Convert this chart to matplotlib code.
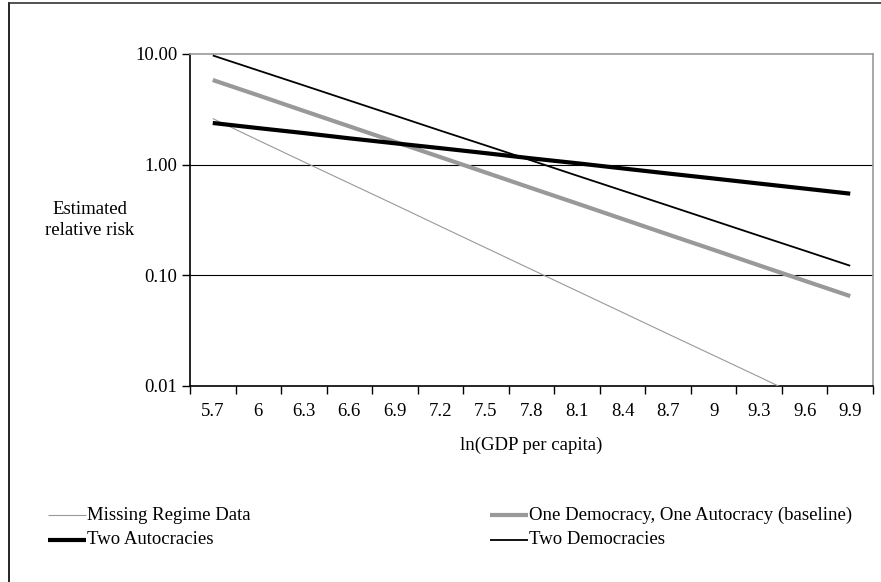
import matplotlib
matplotlib.use("Agg")
import matplotlib.pyplot as plt
from matplotlib.lines import Line2D

plt.rcParams['font.family'] = ['Liberation Serif', 'DejaVu Serif']

# ln(GDP per capita) categories
gdp_labels = ["5.7", "6", "6.3", "6.6", "6.9", "7.2", "7.5", "7.8",
              "8.1", "8.4", "8.7", "9", "9.3", "9.6", "9.9"]

# Estimated relative risk by dyad regime type
missing_regime = [2.61, 1.66, 1.06, 0.679, 0.435, 0.277, 0.177, 0.113,
                  0.0723, 0.0462, 0.0295, 0.0189, 0.0121, 0.00769, 0.00492]
baseline = [5.82, 4.23, 3.06, 2.22, 1.61, 1.17, 0.848, 0.614,
            0.446, 0.323, 0.234, 0.170, 0.123, 0.0893, 0.0649]
two_autocracies = [2.38, 2.14, 1.93, 1.73, 1.56, 1.41, 1.27, 1.14,
                   1.03, 0.925, 0.832, 0.750, 0.675, 0.608, 0.547]
two_democracies = [9.70, 7.10, 5.20, 3.80, 2.78, 2.03, 1.49, 1.09,
                   0.796, 0.583, 0.427, 0.312, 0.228, 0.167, 0.122]

W, H = 881, 582
FS = 13.5
fig = plt.figure(figsize=(W / 100, H / 100), dpi=100)
ax = fig.add_axes([190 / W, 1 - 386 / H, (873 - 190) / W, (386 - 54) / H])

x = list(range(len(gdp_labels)))
series = [
    ("Missing Regime Data", missing_regime, "#999999", 0.8),
    ("One Democracy, One Autocracy (baseline)", baseline, "#999999", 3.0),
    ("Two Autocracies", two_autocracies, "#000000", 3.0),
    ("Two Democracies", two_democracies, "#000000", 1.3),
]
handles = {}
for name, vals, col, lw in series:
    ln, = ax.plot(x, vals, color=col, lw=lw, solid_capstyle='butt', zorder=3)
    handles[name] = ln

ax.set_yscale('log')
ax.set_ylim(0.01, 10)
ax.set_xlim(-0.5, len(gdp_labels) - 0.5)
ax.set_yticks([0.01, 0.1, 1, 10])
ax.set_yticklabels(["0.01", "0.10", "1.00", "10.00"])
ax.yaxis.set_minor_locator(matplotlib.ticker.NullLocator())
for yv in [0.1, 1]:
    ax.axhline(yv, color='black', lw=0.8, zorder=1)

ax.set_xticks(x)
ax.set_xticklabels(gdp_labels)
ax.set_xticks([i - 0.5 for i in range(len(gdp_labels) + 1)], minor=True)
ax.tick_params(axis='x', which='major', length=0, pad=12, labelsize=FS)
ax.tick_params(axis='x', which='minor', length=6, width=1, direction='out')
ax.tick_params(axis='y', which='major', length=6, width=1, direction='out',
               pad=3, labelsize=FS)

for side in ['top', 'right']:
    ax.spines[side].set_color('#999999')
    ax.spines[side].set_linewidth(1.2)
for side in ['left', 'bottom']:
    ax.spines[side].set_color('black')
    ax.spines[side].set_linewidth(1.2)

fig.text(90 / W, 1 - 220 / H, "Estimated\nrelative risk", ha='center',
         va='center', fontsize=FS, linespacing=1.25)
fig.text(531 / W, 1 - 445 / H, "ln(GDP per capita)", ha='center',
         va='center', fontsize=FS)

# legend drawn in figure pixel coordinates
legend_items = [
    ("Missing Regime Data", 48, 515),
    ("Two Autocracies", 48, 540),
    ("One Democracy, One Autocracy (baseline)", 490, 515),
    ("Two Democracies", 490, 540),
]
for name, lx, ly in legend_items:
    h = handles[name]
    fig.add_artist(Line2D([lx / W, (lx + 38) / W], [1 - ly / H, 1 - ly / H],
                          color=h.get_color(), lw=h.get_linewidth(),
                          solid_capstyle='butt'))
    fig.text((lx + 39) / W, 1 - ly / H, name, ha='left', va='center',
             fontsize=FS)

# outer frame (left and top edges)
fig.add_artist(Line2D([8.5 / W, 8.5 / W], [0, 1 - 2.5 / H], color='black', lw=1.2))
fig.add_artist(Line2D([8.5 / W, 1], [1 - 2.5 / H, 1 - 2.5 / H], color='#333333', lw=1.2))

fig.savefig("out.png", dpi=100)
